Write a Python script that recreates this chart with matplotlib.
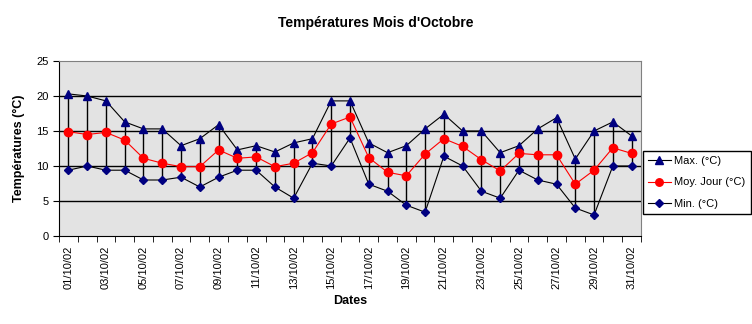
import matplotlib.pyplot as plt
import numpy as np

dates = ["%02d/10/02" % d for d in range(1, 32)]

t_max = [20.3, 20.0, 19.3, 16.3, 15.3, 15.3, 12.9, 13.9, 15.9, 12.3, 12.9, 12.0,
         13.3, 13.9, 19.3, 19.3, 13.3, 11.9, 12.9, 15.3, 17.4, 15.0, 15.0, 11.9,
         12.9, 15.3, 16.9, 11.0, 15.0, 16.3, 14.3]
t_moy = [14.9, 14.5, 14.8, 13.7, 11.1, 10.4, 9.9, 9.9, 12.3, 11.1, 11.3, 9.9,
         10.4, 11.9, 16.0, 17.0, 11.2, 9.1, 8.6, 11.7, 13.9, 12.8, 10.9, 9.3,
         11.8, 11.6, 11.6, 7.4, 9.4, 12.6, 11.8]
t_min = [9.4, 10.0, 9.4, 9.4, 8.0, 8.0, 8.4, 7.0, 8.4, 9.4, 9.4, 7.0,
         5.4, 10.4, 10.0, 14.0, 7.4, 6.4, 4.4, 3.4, 11.4, 10.0, 6.4, 5.4,
         9.4, 8.0, 7.4, 4.0, 3.0, 10.0, 10.0]

plt.rcParams['font.family'] = ['Liberation Sans', 'DejaVu Sans']

fig = plt.figure(figsize=(7.52, 3.24), dpi=100)
ax = fig.add_axes([59 / 752, 88 / 324, 582 / 752, 175 / 324])
ax.set_facecolor('#e3e3e3')

x = np.arange(len(dates))

# lignes haut-bas
ax.vlines(x, t_min, t_max, color='black', lw=1, zorder=2)

ax.plot(x, t_max, color='black', lw=0.8, marker='^', ms=6,
        mfc='#000080', mec='#000080', label='Max. (°C)', zorder=3)
ax.plot(x, t_moy, color='red', lw=0.8, marker='o', ms=6,
        mfc='red', mec='red', label='Moy. Jour (°C)', zorder=3)
ax.plot(x, t_min, color='black', lw=0.8, marker='D', ms=4.5,
        mfc='#000080', mec='#000080', label='Min. (°C)', zorder=3)

ax.set_xlim(-0.5, len(dates) - 0.5)
ax.set_ylim(0, 25)
ax.set_yticks(range(0, 26, 5))
for v in range(5, 25, 5):
    ax.axhline(v, color='black', lw=1, zorder=1)

ax.set_xticks(x[::2])
ax.set_xticklabels(dates[::2], rotation=90, fontsize=8)
ax.set_xticks(np.arange(-0.5, len(dates)), minor=True)
ax.tick_params(axis='x', which='major', length=0, pad=7)
ax.tick_params(axis='x', which='minor', length=4, direction='out', color='black')
ax.tick_params(axis='y', length=4, direction='out', labelsize=8)

for s in ['top', 'right']:
    ax.spines[s].set_color('#808080')
for s in ['left', 'bottom']:
    ax.spines[s].set_color('black')

ax.set_xlabel('Dates', fontsize=9, fontweight='bold', labelpad=4)
ax.set_ylabel('Températures (°C)', fontsize=9, fontweight='bold', labelpad=8)
fig.text(0.5, 0.93, "Températures Mois d'Octobre", ha='center', va='center',
         fontsize=10, fontweight='bold')

leg = ax.legend(loc='center left', bbox_to_anchor=(1.003, 0.306), fontsize=8,
                frameon=True, fancybox=False, edgecolor='black', framealpha=1,
                borderaxespad=0, borderpad=0.5, handlelength=2.0,
                handletextpad=0.3, labelspacing=1.0, markerscale=0.9)
leg.get_frame().set_linewidth(1)

fig.savefig('out.png', dpi=100)
